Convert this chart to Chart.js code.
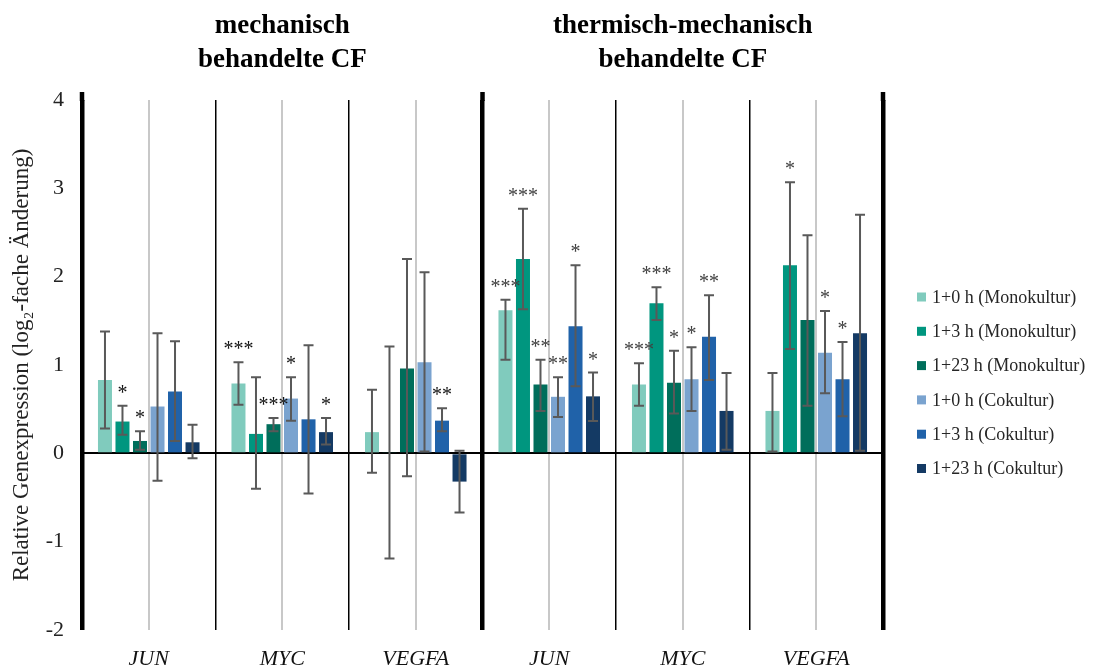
<!DOCTYPE html>
<html>
<head>
<meta charset="utf-8">
<script src="https://cdn.jsdelivr.net/npm/chart.js@4/dist/chart.umd.min.js"></script>
<style>html,body{margin:0;padding:0;background:#fff;}</style>
</head>
<body>
<canvas id="chart" width="1096" height="667"></canvas>
<script>
// Gene categories: first three = mechanically treated CF, last three = thermo-mechanically treated CF
const genes = ['JUN', 'MYC', 'VEGFA', 'JUN', 'MYC', 'VEGFA'];
const groupTitles = [['mechanisch', 'behandelte CF'], ['thermisch-mechanisch', 'behandelte CF']];
const yTickValues = [-2, -1, 0, 1, 2, 3, 4];

const seriesLabels = [
  '1+0 h (Monokultur)', '1+3 h (Monokultur)', '1+23 h (Monokultur)',
  '1+0 h (Cokultur)', '1+3 h (Cokultur)', '1+23 h (Cokultur)'
];
const seriesColors = ['#80cbbd', '#00967f', '#006e5b', '#7aa3cf', '#2062a9', '#143a64'];

// log2 fold change per gene
const mono0h  = [0.83, 0.79, 0.24, 1.62, 0.78, 0.48];
const mono3h  = [0.36, 0.22, 0.01, 2.20, 1.70, 2.13];
const mono23h = [0.14, 0.33, 0.96, 0.78, 0.80, 1.51];
const co0h    = [0.53, 0.62, 1.03, 0.64, 0.84, 1.14];
const co3h    = [0.70, 0.385, 0.37, 1.44, 1.32, 0.84];
const co23h   = [0.125, 0.24, -0.32, 0.645, 0.48, 1.36];

// error bar extents (upper / lower)
const mono0hUp    = [0.55, 0.24, 0.48, 0.12, 0.24, 0.43];
const mono0hDown  = [0.55, 0.24, 0.46, 0.56, 0.24, 0.46];
const mono3hUp    = [0.18, 0.64, 1.20, 0.57, 0.18, 0.94];
const mono3hDown  = [0.15, 0.62, 1.20, 0.57, 0.19, 0.95];
const mono23hUp   = [0.11, 0.07, 1.24, 0.28, 0.36, 0.96];
const mono23hDown = [0.10, 0.08, 1.22, 0.30, 0.35, 0.97];
const co0hUp      = [0.83, 0.24, 1.02, 0.22, 0.36, 0.47];
const co0hDown    = [0.84, 0.25, 1.01, 0.23, 0.36, 0.46];
const co3hUp      = [0.57, 0.84, 0.14, 0.69, 0.47, 0.42];
const co3hDown    = [0.56, 0.84, 0.12, 0.68, 0.49, 0.42];
const co23hUp     = [0.20, 0.16, 0.35, 0.27, 0.43, 1.34];
const co23hDown   = [0.18, 0.14, 0.35, 0.28, 0.44, 1.33];

// significance marks
const mono0hStars  = ['', '***', '', '***', '***', ''];
const mono3hStars  = ['*', '', '', '***', '***', '*'];
const mono23hStars = ['*', '***', '', '**', '*', ''];
const co0hStars    = ['', '*', '', '**', '*', '*'];
const co3hStars    = ['', '', '**', '*', '**', '*'];
const co23hStars   = ['', '*', '', '*', '', ''];

const values = [mono0h, mono3h, mono23h, co0h, co3h, co23h];
const errUp = [mono0hUp, mono3hUp, mono23hUp, co0hUp, co3hUp, co23hUp];
const errDown = [mono0hDown, mono3hDown, mono23hDown, co0hDown, co3hDown, co23hDown];
const stars = [mono0hStars, mono3hStars, mono23hStars, co0hStars, co3hStars, co23hStars];

const SERIF = '"Liberation Serif", "Times New Roman", serif';
Chart.defaults.font.family = SERIF;
Chart.defaults.color = '#222';

const datasets = seriesLabels.map((label, k) => ({
  label,
  data: values[k],
  errUp: errUp[k],
  errDown: errDown[k],
  stars: stars[k],
  backgroundColor: seriesColors[k],
  borderWidth: 0,
  categoryPercentage: 0.787,
  barPercentage: 0.8,
  xAxisID: 'x',
  yAxisID: 'y'
}));

// error bars and significance asterisks
const errorBarPlugin = {
  id: 'errorBars',
  afterDatasetsDraw(chart) {
    const { ctx } = chart;
    const y = chart.scales.y;
    ctx.save();
    chart.data.datasets.forEach((ds, di) => {
      const meta = chart.getDatasetMeta(di);
      meta.data.forEach((bar, i) => {
        const v = ds.data[i];
        const top = y.getPixelForValue(v + ds.errUp[i]);
        const bot = y.getPixelForValue(v - ds.errDown[i]);
        ctx.strokeStyle = '#595959';
        ctx.lineWidth = 2;
        ctx.beginPath();
        ctx.moveTo(bar.x, top); ctx.lineTo(bar.x, bot);
        ctx.moveTo(bar.x - 5, top); ctx.lineTo(bar.x + 5, top);
        ctx.moveTo(bar.x - 5, bot); ctx.lineTo(bar.x + 5, bot);
        ctx.stroke();
        const s = ds.stars[i];
        if (s) {
          ctx.fillStyle = i < 3 ? '#111' : '#404040';
          ctx.font = '20px ' + SERIF;
          ctx.textAlign = 'center';
          ctx.textBaseline = 'alphabetic';
          ctx.fillText(s, bar.x, top - 7);
        }
      });
    });
    ctx.restore();
  }
};

// group headings, heavy separators overshoot, legend
const annotationPlugin = {
  id: 'headings',
  afterDraw(chart) {
    const { ctx, chartArea } = chart;
    const xg = chart.scales.xg;
    ctx.save();

    // heavy separators reach slightly above the plot top
    ctx.strokeStyle = '#000';
    ctx.lineWidth = 4.5;
    [0, 6, 12].forEach(v => {
      const px = xg.getPixelForValue(v);
      ctx.beginPath();
      ctx.moveTo(px, chartArea.top - 8);
      ctx.lineTo(px, chartArea.top + 1);
      ctx.stroke();
    });

    ctx.fillStyle = '#000';
    ctx.font = 'bold 27px ' + SERIF;
    ctx.textAlign = 'center';
    ctx.textBaseline = 'alphabetic';
    groupTitles.forEach((lines, g) => {
      const cx = (xg.getPixelForValue(g * 6) + xg.getPixelForValue(g * 6 + 6)) / 2;
      lines.forEach((t, li) => ctx.fillText(t, cx, 33 + li * 34));
    });

    ctx.font = '18px ' + SERIF;
    ctx.textAlign = 'left';
    ctx.textBaseline = 'middle';
    chart.data.datasets.forEach((ds, k) => {
      const cy = 297 + k * 34.3;
      ctx.fillStyle = ds.backgroundColor;
      ctx.fillRect(917, cy - 4.5, 9, 9);
      ctx.fillStyle = '#262626';
      ctx.fillText(ds.label, 932, cy + 1);
    });
    ctx.restore();
  }
};

new Chart(document.getElementById('chart'), {
  type: 'bar',
  data: { labels: genes, datasets },
  options: {
    responsive: false,
    animation: false,
    devicePixelRatio: 1,
    layout: { padding: { top: 100, right: 213, bottom: 0, left: 0 } },
    plugins: { legend: { display: false }, tooltip: { enabled: false } },
    scales: {
      x: {
        type: 'category',
        offset: true,
        grid: { display: false },
        border: { display: false },
        ticks: { font: { size: 22, style: 'italic' }, color: '#111', padding: 8, maxRotation: 0 },
        afterFit(s) { s.height = 37; }
      },
      xg: {
        type: 'linear',
        position: 'top',
        min: 0,
        max: 12,
        offset: false,
        afterBuildTicks(s) { s.ticks = Array.from({ length: 13 }, (_, i) => ({ value: i })); },
        ticks: { display: false },
        border: { display: false },
        grid: {
          offset: false,
          drawTicks: false,
          color: c => (c.index % 2 === 1 ? '#c8c8c8' : '#000'),
          lineWidth: c => (c.index % 6 === 0 ? 4.5 : (c.index % 2 === 1 ? 2 : 1.5))
        },
        afterFit(s) { s.height = 0; }
      },
      y: {
        min: yTickValues[0],
        max: yTickValues[yTickValues.length - 1],
        afterBuildTicks(s) { s.ticks = yTickValues.map(v => ({ value: v })); },
        ticks: { font: { size: 22 }, color: '#222', padding: 18 },
        border: { display: false },
        grid: {
          drawTicks: false,
          color: c => (c.tick && c.tick.value === 0 ? '#000' : 'rgba(0,0,0,0)'),
          lineWidth: 2
        },
        title: {
          display: true,
          text: 'Relative Genexpression (log\u2082-fache \u00c4nderung)',
          font: { size: 23 },
          color: '#222',
          padding: { top: 8, bottom: 0 }
        },
        afterFit(s) { s.width = 82; }
      }
    }
  },
  plugins: [errorBarPlugin, annotationPlugin]
});
</script>
</body>
</html>
